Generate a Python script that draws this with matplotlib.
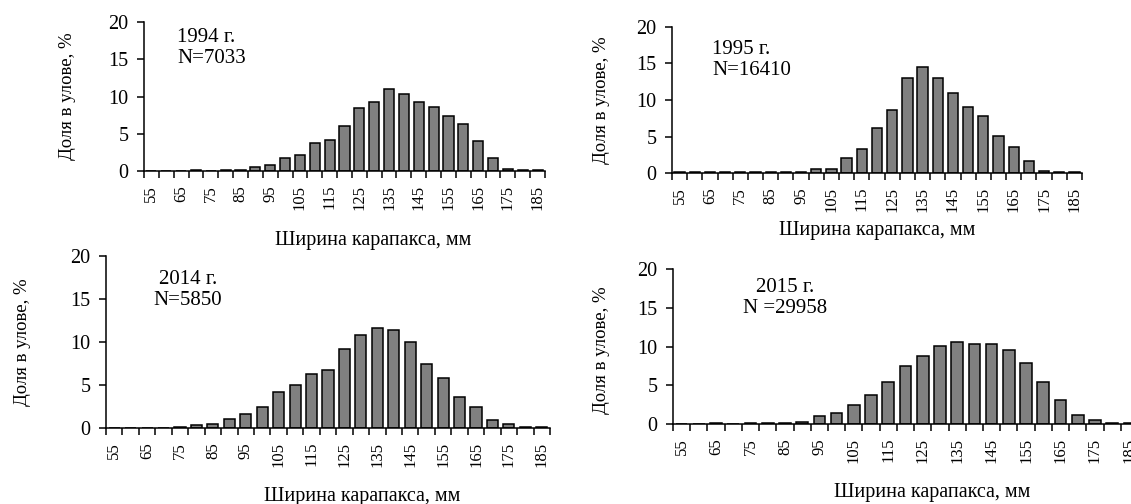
# Распределение ширины карапакса в уловах по годам (4 панели)
import matplotlib
matplotlib.use('Agg')
import matplotlib.pyplot as plt

plt.rcParams['font.family'] = ['Liberation Serif', 'DejaVu Serif']

# ширина карапакса, мм (классы)
razmer = [55, 60, 65, 70, 75, 80, 85, 90, 95, 100, 105, 110, 115, 120, 125,
          130, 135, 140, 145, 150, 155, 160, 165, 170, 175, 180, 185]

# доля в улове, %
dolya_1994 = [0, 0, 0, 0.2, 0, 0.1, 0.1, 0.5, 0.8, 1.8, 2.2, 3.7, 4.2, 6.0, 8.4,
              9.2, 11.0, 10.4, 9.2, 8.6, 7.4, 6.3, 4.0, 1.8, 0.3, 0.1, 0.1]
dolya_1995 = [0.1, 0.1, 0.1, 0.1, 0.1, 0.1, 0.1, 0.1, 0.1, 0.5, 0.6, 2.1, 3.3, 6.1, 8.6,
              13.0, 14.5, 13.0, 11.0, 9.1, 7.8, 5.1, 3.5, 1.7, 0.3, 0.1, 0.1]
dolya_2014 = [0, 0, 0, 0, 0.1, 0.3, 0.5, 1.0, 1.6, 2.4, 4.2, 5.0, 6.3, 6.7, 9.2,
              10.8, 11.6, 11.4, 10.0, 7.5, 5.8, 3.6, 2.5, 0.9, 0.5, 0.1, 0.1]
dolya_2015 = [0, 0, 0.1, 0, 0.1, 0.1, 0.1, 0.3, 1.0, 1.4, 2.4, 3.8, 5.4, 7.5, 8.75,
              10.1, 10.6, 10.3, 10.3, 9.6, 7.9, 5.4, 3.1, 1.2, 0.5, 0.1, 0.1]

podpisi = ['1994 г.\nN=7033', '1995 г.\nN=16410', '2014 г.\nN=5850', '2015 г.\nN =29958']

W, H = 1131, 504
fig = plt.figure(figsize=(W / 100, H / 100), dpi=100)

# положение осей в пикселях: левый край, правый край, верх (20), низ (0)
paneli = [
    dict(d=dolya_1994, box=(144, 545, 22, 171), txt=(177, 48), ha='left',
         ylab=(68, 96), xlab=(373, 240)),
    dict(d=dolya_1995, box=(672, 1082, 27, 173), txt=(712, 60), ha='left',
         ylab=(601, 100), xlab=(877, 231)),
    dict(d=dolya_2014, box=(106, 550, 256, 428), txt=(188, 290), ha='center',
         ylab=(23, 342), xlab=(362, 496)),
    dict(d=dolya_2015, box=(673, 1138, 269, 424), txt=(785, 298), ha='center',
         ylab=(601, 350), xlab=(932, 493)),
]

for i, p in enumerate(paneli):
    l, r, t, b = p['box']
    ax = fig.add_axes([l / W, 1 - b / H, (r - l) / W, (b - t) / H])
    x = list(range(len(razmer)))
    ax.bar(x, p['d'], width=0.68, color='#808080', edgecolor='black', linewidth=1.1)
    ax.set_xlim(-0.5, len(razmer) - 0.5)
    ax.set_ylim(0, 20)
    ax.set_yticks([0, 5, 10, 15, 20])
    ax.tick_params(axis='y', labelsize=14.5, length=5, width=1.1, pad=6)

    # деления на границах классов, подписи через один класс
    ax.set_xticks([k - 0.5 for k in range(len(razmer) + 1)])
    ax.set_xticklabels([])
    ax.set_xticks(x[::2], minor=True)
    ax.set_xticklabels([str(v) for v in razmer[::2]], minor=True, rotation=90)
    ax.tick_params(axis='x', which='major', length=5, width=1.1)
    ax.tick_params(axis='x', which='minor', length=0, labelsize=12, pad=10)

    for s in ['top', 'right']:
        ax.spines[s].set_visible(False)
    for s in ['left', 'bottom']:
        ax.spines[s].set_linewidth(1.1)

    ax.set_ylabel('Доля в улове, %', fontsize=13.5)
    ax.yaxis.set_label_coords(p['ylab'][0] / W, 1 - p['ylab'][1] / H, transform=fig.transFigure)
    ax.set_xlabel('Ширина карапакса, мм', fontsize=14.5)
    ax.xaxis.set_label_coords(p['xlab'][0] / W, 1 - p['xlab'][1] / H, transform=fig.transFigure)
    ax.xaxis.label.set_va('center')
    ax.yaxis.label.set_va('center')

    fig.text(p['txt'][0] / W, 1 - p['txt'][1] / H, podpisi[i], fontsize=15,
             ha=p['ha'], va='center', linespacing=1.1, multialignment=p['ha'])

fig.savefig('out.png', dpi=100)
